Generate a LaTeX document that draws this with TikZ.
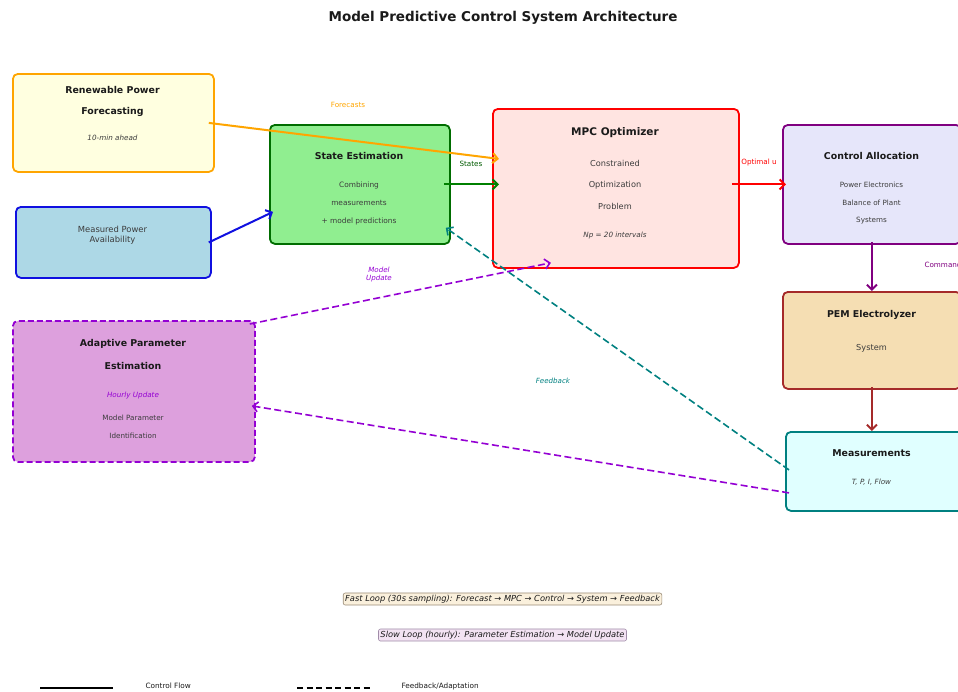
\documentclass[tikz,border=0pt]{standalone}
\usepackage{fontspec}
\setmainfont{DejaVu Sans}
\usetikzlibrary{arrows.meta}
\definecolor{cOrange}{HTML}{FFA500}
\definecolor{cLightYellow}{HTML}{FFFFE0}
\definecolor{cLightBlue}{HTML}{ADD8E6}
\definecolor{cBlue}{HTML}{1010E0}
\definecolor{cLightGreen}{HTML}{90EE90}
\definecolor{cGreen}{HTML}{008000}
\definecolor{cMisty}{HTML}{FFE4E1}
\definecolor{cRed}{HTML}{FF0000}
\definecolor{cLavender}{HTML}{E6E6FA}
\definecolor{cPurple}{HTML}{800080}
\definecolor{cWheat}{HTML}{F5DEB3}
\definecolor{cBrown}{HTML}{A52A2A}
\definecolor{cLightCyan}{HTML}{E0FFFF}
\definecolor{cTeal}{HTML}{008080}
\definecolor{cPlum}{HTML}{DDA0DD}
\definecolor{cViolet}{HTML}{9400D3}
\definecolor{cText}{HTML}{1A1A1A}
\definecolor{cFastFill}{HTML}{FAF0DC}
\definecolor{cFastDraw}{HTML}{9A8C78}
\definecolor{cSlowFill}{HTML}{F3E3F3}
\definecolor{cSlowDraw}{HTML}{A08CA8}
\begin{document}
\begin{tikzpicture}[x=1pt,y=-1pt,
  box/.style={draw, rounded corners=5pt, line width=1.8pt, inner sep=0pt, anchor=north west},
  ttl/.style={font=\bfseries\fontsize{9.4}{11}\selectfont, text=cText},
  bigttl/.style={font=\bfseries\fontsize{10.5}{12}\selectfont, text=cText},
  body/.style={font=\fontsize{7.4}{9}\selectfont, text=cText!85},
  bodym/.style={font=\fontsize{8.2}{9.5}\selectfont, text=cText!85},
  bodys/.style={font=\fontsize{7.2}{8.5}\selectfont, text=cText!85},
  ital/.style={font=\itshape\fontsize{7.2}{8.5}\selectfont, text=cText!85},
  lbl/.style={font=\fontsize{7.2}{8.5}\selectfont},
  ilbl/.style={font=\itshape\fontsize{7.1}{8}\selectfont, align=center},
  arr/.style={line width=2pt, -{Straight Barb[length=5pt,width=10pt]}},
  darr/.style={line width=1.6pt, dash pattern=on 7pt off 3.5pt, -{Straight Barb[length=5pt,width=10pt]}},
  loopbox/.style={draw, rounded corners=2pt, line width=0.6pt, inner sep=2pt, font=\itshape\fontsize{8.3}{9.5}\selectfont, text=cText},
  legtxt/.style={font=\fontsize{7.3}{8.5}\selectfont, text=cText, anchor=west}
]
\useasboundingbox (0,0) rectangle (958,691);

% title
\node[font=\bfseries\fontsize{13.5}{16}\selectfont, text=cText] (title) at (503,18) {Model Predictive Control System Architecture};

% boxes
\node[box, draw=cOrange, fill=cLightYellow, minimum width=201pt, minimum height=98pt] (ren) at (12,73) {};
\node[box, draw=cBlue, fill=cLightBlue, minimum width=195pt, minimum height=71pt] (mpa) at (15,206) {};
\node[box, draw=cGreen!85!black, fill=cLightGreen, minimum width=180pt, minimum height=119pt] (se) at (269,124) {};
\node[box, draw=cRed, fill=cMisty, minimum width=246pt, minimum height=159pt] (mpc) at (492,108) {};
\node[box, draw=cPurple, fill=cLavender, minimum width=178pt, minimum height=119pt] (ca) at (782,124) {};
\node[box, draw=cBrown, fill=cWheat, minimum width=178pt, minimum height=97pt] (pem) at (782,291) {};
\node[box, draw=cTeal, fill=cLightCyan, minimum width=178pt, minimum height=79pt] (meas) at (785,431) {};
\node[box, draw=cViolet, fill=cPlum, dash pattern=on 6pt off 3pt, minimum width=242pt, minimum height=141pt] (apr) at (12,320) {};

% box texts
\node[ttl] (ren1) at (112.5,90) {Renewable Power};
\node[ttl] (ren2) at (112.5,112) {Forecasting};
\node[ital] (ren3) at (112.5,138) {10-min ahead};

\node[font=\fontsize{8.4}{9.8}\selectfont, text=cText!85, align=center] (mpa1) at (112.5,235) {Measured Power\\Availability};

\node[ttl] (se1) at (359,156) {State Estimation};
\node[body] (se2) at (359,185) {Combining};
\node[body] (se3) at (359,203) {measurements};
\node[body] (se4) at (359,221) {+ model predictions};

\node[bigttl] (mpc1) at (615,133) {MPC Optimizer};
\node[bodym] (mpc2) at (615,163) {Constrained};
\node[bodym] (mpc3) at (615,185) {Optimization};
\node[bodym] (mpc4) at (615,206) {Problem};
\node[ital] (mpc5) at (615,236) {Np = 20 intervals};

\node[ttl] (ca1) at (871.5,156) {Control Allocation};
\node[bodys] (ca2) at (871.5,185) {Power Electronics};
\node[bodys] (ca3) at (871.5,203) {Balance of Plant};
\node[bodys] (ca4) at (871.5,221) {Systems};

\node[ttl] (pem1) at (871.5,315) {PEM Electrolyzer};
\node[bodym] (pem2) at (871.5,348) {System};

\node[ttl] (meas1) at (871.5,453) {Measurements};
\node[ital] (meas2) at (871.5,482) {T, P, I, Flow};

\node[ttl] (apr1) at (133,344) {Adaptive Parameter};
\node[ttl] (apr2) at (133,366) {Estimation};
\node[ital, text=cViolet] (apr3) at (133,396) {Hourly Update};
\node[bodys] (apr4) at (133,418) {Model Parameter};
\node[bodys] (apr5) at (133,436) {Identification};

% connectors
\draw[arr, cOrange] ([xshift=-6pt]ren.east) -- ([xshift=7pt,yshift=29.5pt]mpc.west);
\draw[arr, cBlue] ([xshift=-3pt]mpa.east) -- ([xshift=4pt,yshift=-27.5pt]se.west);
\draw[arr, cGreen] ([xshift=-7pt]se.east) -- ([xshift=7pt]se.east -| mpc.west);
\draw[arr, cRed] ([xshift=-8pt]ca.west -| mpc.east) -- ([xshift=4pt]ca.west);
\draw[arr, cPurple] ([yshift=3pt]ca.south) -- (ca.south |- pem.north);
\draw[arr, cBrown] ([yshift=3pt]pem.south) -- (pem.south |- meas.north);
\draw[darr, cTeal] ([xshift=4pt,yshift=1.5pt]meas.west) -- ([xshift=-5pt,yshift=17pt]se.south east);
\draw[darr, cViolet] ([xshift=-6pt,yshift=-4pt]apr.north east) -- ([xshift=-65pt,yshift=6pt]mpc.south);
\draw[darr, cViolet] ([xshift=4pt,yshift=-21.5pt]meas.west) -- ([xshift=-4pt,yshift=-14.5pt]apr.east);

% connector labels
\node[lbl, text=cOrange] (lforecast) at (348,105) {Forecasts};
\node[lbl, text=cGreen!70!black] (lstates) at (471,164) {States};
\node[lbl, text=cRed] (lopt) at (759,163) {Optimal u};
\node[lbl, text=cPurple, anchor=west] (lcmd) at (921,265) {Commands};
\node[ilbl, text=cViolet] (lmu) at (379,275) {Model\\Update};
\node[ilbl, text=cTeal] (lfb) at (553,381) {Feedback};

% loop notes
\node[loopbox, draw=cFastDraw, fill=cFastFill] (fast) at (502.5,599) {Fast Loop (30s sampling): Forecast → MPC → Control → System → Feedback};
\node[loopbox, draw=cSlowDraw, fill=cSlowFill] (slow) at (502.5,635) {Slow Loop (hourly): Parameter Estimation → Model Update};

% legend
\coordinate (ls1) at (40,688);
\coordinate (ls2) at (113,688);
\coordinate (ld1) at (297,688);
\coordinate (ld2) at (370,688);
\draw[line width=2.2pt, black] (ls1) -- (ls2);
\draw[line width=2.2pt, black, dash pattern=on 6pt off 3.5pt] (ld1) -- (ld2);
\node[legtxt] (lg1) at (142,686) {Control Flow};
\node[legtxt] (lg2) at (398,686) {Feedback/Adaptation};
\end{tikzpicture}
\end{document}
